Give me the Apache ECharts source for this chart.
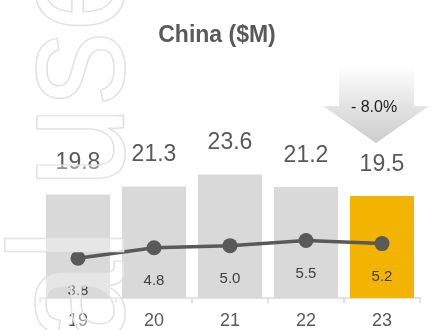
<!DOCTYPE html>
<html>
<head>
<meta charset="utf-8">
<script src="https://cdn.jsdelivr.net/npm/echarts@6/dist/echarts.min.js"></script>
<style>
  html, body { margin: 0; padding: 0; background: #fff; }
  #chart { width: 434px; height: 330px; }
</style>
</head>
<body>
<div id="chart"></div>
<script>
// China revenue ($M) by year, with a secondary measure drawn as a line
const years = ['19', '20', '21', '22', '23'];
const revenue = [19.8, 21.3, 23.6, 21.2, 19.5];
const secondary = [3.8, 4.8, 5.0, 5.5, 5.2];

const barGrey = '#d9d9d9';
const barHighlight = '#f2b400';
const textGrey = '#595959';

// Year-over-year change of the latest year
const last = revenue.length - 1;
const change = (revenue[last] - revenue[last - 1]) / revenue[last - 1] * 100;
const changeText = (change < 0 ? '- ' : '+ ') + Math.abs(change).toFixed(1) + '%';

const chart = echarts.init(document.getElementById('chart'), null, { renderer: 'canvas' });

chart.setOption({
  animation: false,
  backgroundColor: '#fff',
  textStyle: { fontFamily: '"Liberation Sans", Arial, sans-serif' },
  title: {
    text: 'China ($M)',
    left: 'center',
    top: 19,
    textStyle: { fontSize: 23, fontWeight: 'bold', color: textGrey }
  },
  grid: { left: 40, right: 14, top: 141, bottom: 30 },
  xAxis: {
    type: 'category',
    data: years,
    axisLine: { lineStyle: { color: barGrey, width: 1.5 } },
    axisTick: { show: true, length: 5, lineStyle: { color: barGrey, width: 1.5 } },
    axisLabel: { color: textGrey, fontSize: 18, margin: 14 }
  },
  yAxis: [
    { type: 'value', min: 0, max: 30, show: false, splitLine: { show: false } },
    { type: 'value', min: 0, max: 15, show: false, splitLine: { show: false } }
  ],
  series: [
    {
      type: 'bar',
      data: revenue.map((v, i) => ({
        value: v,
        itemStyle: { color: i === last ? barHighlight : barGrey }
      })),
      barWidth: 64,
      label: {
        show: true,
        position: 'top',
        distance: 20,
        fontSize: 23,
        color: textGrey,
        formatter: p => p.value.toFixed(1)
      },
      z: 2
    },
    {
      type: 'line',
      yAxisIndex: 1,
      data: secondary,
      symbol: 'circle',
      symbolSize: 15,
      lineStyle: { color: textGrey, width: 3.5 },
      itemStyle: { color: textGrey },
      label: {
        show: true,
        position: 'bottom',
        distance: 18,
        fontSize: 15,
        color: '#404040',
        formatter: p => p.value.toFixed(1)
      },
      z: 3
    }
  ],
  graphic: [
    {
      // change arrow above the latest year
      type: 'polygon',
      z: 5,
      shape: {
        points: [[339, 66], [414, 66], [414, 106], [429, 106], [376, 143], [323, 106], [339, 106]]
      },
      style: {
        fill: new echarts.graphic.LinearGradient(0, 0, 0, 1, [
          { offset: 0, color: '#ffffff' },
          { offset: 0.5, color: '#e4e4e4' },
          { offset: 1, color: '#cccccc' }
        ])
      }
    },
    {
      type: 'text',
      z: 6,
      x: 374,
      y: 108,
      style: {
        text: changeText,
        font: '16px "Liberation Sans", Arial, sans-serif',
        fill: '#222',
        textAlign: 'center',
        textVerticalAlign: 'middle'
      }
    },
    {
      // outlined watermark running up the left edge
      type: 'text',
      z: 100,
      x: 78,
      y: 721,
      rotation: Math.PI / 2,
      scaleX: 0.9,
      silent: true,
      style: {
        text: 'Internal use',
        font: '164px "Liberation Sans", Arial, sans-serif',
        textAlign: 'left',
        textVerticalAlign: 'middle',
        fill: 'rgba(255,255,255,0.35)',
        stroke: '#dcdcdc',
        lineWidth: 1.6
      }
    }
  ]
});
</script>
</body>
</html>
